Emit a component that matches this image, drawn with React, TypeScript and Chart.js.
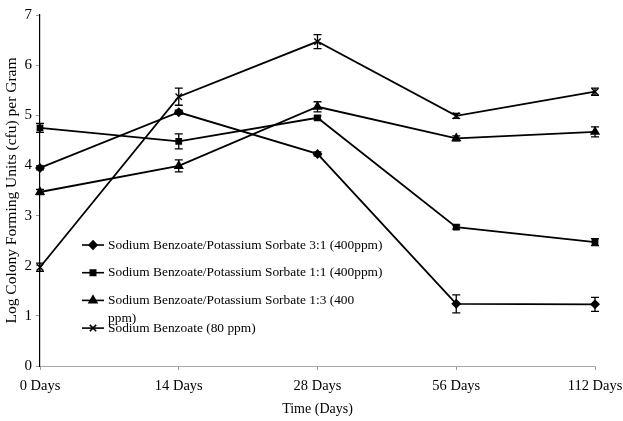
import React, { useEffect, useRef } from "react";
import { Chart, registerables } from "chart.js";
import { drawPoint } from "chart.js/helpers";

Chart.register(...registerables);

const categories = ["0 Days", "14 Days", "28 Days", "56 Days", "112 Days"];
const seriesLabels = [
  "Sodium Benzoate/Potassium Sorbate 3:1 (400ppm)",
  "Sodium Benzoate/Potassium Sorbate 1:1 (400ppm)",
  "Sodium Benzoate/Potassium Sorbate 1:3 (400 ppm)",
  "Sodium Benzoate (80 ppm)",
];
const ratio31 = [3.95, 5.06, 4.23, 1.24, 1.23];
const ratio11 = [4.75, 4.48, 4.95, 2.77, 2.47];
const ratio13 = [3.47, 3.99, 5.17, 4.54, 4.67];
const benzoate = [1.97, 5.37, 6.47, 4.99, 5.47];
const err31 = [0.04, 0.04, 0.04, 0.18, 0.14];
const err11 = [0.09, 0.15, 0.04, 0.04, 0.07];
const err13 = [0.05, 0.12, 0.1, 0.05, 0.1];
const errBenz = [0.08, 0.17, 0.14, 0.05, 0.07];
const yTicks = [0, 1, 2, 3, 4, 5, 6, 7];

const SERIF = "'Liberation Serif', 'Times New Roman', serif";

const errorBarPlugin = {
  id: "errorBars",
  afterDatasetsDraw(chart: any) {
    const { ctx } = chart;
    const yScale = chart.scales.y;
    chart.data.datasets.forEach((ds: any, i: number) => {
      const meta = chart.getDatasetMeta(i);
      if (!ds.errors) return;
      ctx.save();
      ctx.strokeStyle = "#000";
      ctx.lineWidth = 1.3;
      meta.data.forEach((pt: any, j: number) => {
        const v = ds.data[j];
        const e = ds.errors[j];
        const top = yScale.getPixelForValue(v + e);
        const bot = yScale.getPixelForValue(v - e);
        const x = pt.x;
        ctx.beginPath();
        ctx.moveTo(x, top);
        ctx.lineTo(x, bot);
        ctx.moveTo(x - 4, top);
        ctx.lineTo(x + 4, top);
        ctx.moveTo(x - 4, bot);
        ctx.lineTo(x + 4, bot);
        ctx.stroke();
      });
      ctx.restore();
    });
  },
};

const legendPlugin = {
  id: "insideLegend",
  afterDraw(chart: any) {
    const { ctx } = chart;
    const x0 = 82;
    const x1 = 104;
    const textX = 108;
    let y = 245;
    const rowGap = 27.7;
    ctx.save();
    ctx.font = `13.4px ${SERIF}`;
    ctx.textBaseline = "middle";
    ctx.fillStyle = "#000";
    const maxW = ctx.measureText(chart.data.datasets[0].label).width + 2;
    chart.data.datasets.forEach((ds: any) => {
      ctx.strokeStyle = "#000";
      ctx.lineWidth = 1.6;
      ctx.beginPath();
      ctx.moveTo(x0, y);
      ctx.lineTo(x1, y);
      ctx.stroke();
      drawPoint(
        ctx,
        {
          pointStyle: ds.pointStyle,
          radius: ds.pointRadius,
          borderWidth: 1.4,
          rotation: 0,
        },
        (x0 + x1) / 2,
        y
      );
      const words = String(ds.label).split(" ");
      const lines: string[] = [];
      let cur = "";
      words.forEach((w) => {
        const test = cur ? cur + " " + w : w;
        if (ctx.measureText(test).width > maxW && cur) {
          lines.push(cur);
          cur = w;
        } else cur = test;
      });
      if (cur) lines.push(cur);
      ctx.fillStyle = "#000";
      lines.forEach((ln, k) => {
        ctx.fillText(ln, textX, y + k * 18);
      });
      y += rowGap;
    });
    ctx.restore();
  },
};

export default function App() {
  const ref = useRef<HTMLCanvasElement | null>(null);
  useEffect(() => {
    document.body.style.margin = "0";
    if (!ref.current) return;
    const mk = (label: string, data: number[], errors: number[], style: string, r: number) => ({
      label,
      data,
      errors,
      borderColor: "#000",
      backgroundColor: "#000",
      pointBackgroundColor: "#000",
      pointBorderColor: "#000",
      borderWidth: 1.8,
      pointStyle: style,
      pointRadius: r,
      pointBorderWidth: 1.4,
      tension: 0,
      fill: false,
    });
    const chart = new Chart(ref.current, {
      type: "line",
      data: {
        labels: categories,
        datasets: [
          mk(seriesLabels[0], ratio31, err31, "rectRot", 4),
          mk(seriesLabels[1], ratio11, err11, "rect", 3.8),
          mk(seriesLabels[2], ratio13, err13, "triangle", 4.5),
          mk(seriesLabels[3], benzoate, errBenz, "crossRot", 4.5),
        ] as any,
      },
      options: {
        animation: false,
        responsive: false,
        layout: { padding: { left: 0, top: 15, right: 28, bottom: 0 } },
        plugins: {
          legend: { display: false },
          tooltip: { enabled: false },
        },
        scales: {
          x: {
            type: "category",
            offset: false,
            afterFit: (s: any) => {
              s.height = 55;
              s.paddingLeft = 0;
              s.paddingRight = 0;
            },
            grid: {
              drawOnChartArea: false,
              tickLength: 4,
              color: "#999",
            },
            border: { display: true, color: "#aaa", dash: [2, 3], width: 1 },
            ticks: {
              color: "#000",
              font: { family: SERIF, size: 14.5 },
              padding: 7,
              maxRotation: 0,
              autoSkip: false,
            },
            title: {
              display: true,
              text: "Time (Days)",
              color: "#000",
              font: { family: SERIF, size: 14 },
              padding: { top: 0, bottom: 3 },
            },
          },
          y: {
            min: 0,
            max: 7,
            afterFit: (s: any) => {
              s.width = 40;
            },
            afterBuildTicks: (s: any) => {
              s.ticks = yTicks.map((v) => ({ value: v }));
            },
            grid: {
              drawOnChartArea: false,
              tickLength: 4,
              color: "#999",
            },
            border: { display: true, color: "#000", width: 1.2 },
            ticks: {
              color: "#000",
              font: { family: SERIF, size: 15 },
              padding: 4,
            },
            title: {
              display: true,
              text: "Log Colony Forming Units (cfu) per Gram",
              color: "#000",
              font: { family: SERIF, size: 15.5 },
              padding: { top: 3, bottom: 0 },
            },
          },
        },
      },
      plugins: [errorBarPlugin, legendPlugin],
    });
    return () => chart.destroy();
  }, []);
  return (
    <div style={{ position: "absolute", left: 0, top: 0, width: 623, height: 421, background: "#fff" }}>
      <canvas ref={ref} width={623} height={421} />
    </div>
  );
}
